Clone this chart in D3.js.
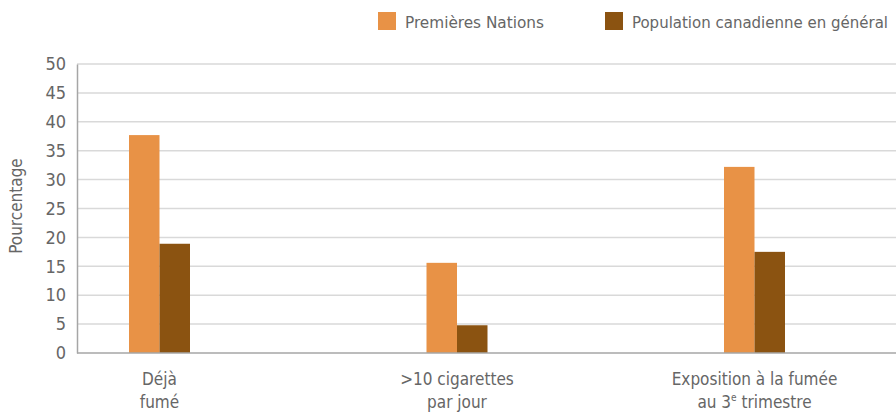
<!DOCTYPE html>
<html>
<head>
<meta charset="utf-8">
<script src="https://cdn.jsdelivr.net/npm/d3@7"></script>
<style>
  html, body { margin: 0; padding: 0; background: #fff; }
  svg { display: block; }
  text { font-family: "DejaVu Sans Condensed", "Open Sans", sans-serif; fill: #666; }
</style>
</head>
<body>
<svg id="chart" width="896" height="414"></svg>
<script>
// Catégories (chaque libellé sur deux lignes)
const categories = ["Déjà fumé", ">10 cigarettes par jour", "Exposition à la fumée au 3e trimestre"];
const seriesNames = ["Premières Nations", "Population canadienne en général"];
const premieresNations = [37.7, 15.6, 32.2];
const populationCanadienne = [18.9, 4.8, 17.5];
const yTicks = [0, 5, 10, 15, 20, 25, 30, 35, 40, 45, 50];
const colors = ["#E89246", "#8B5311"];

const svg = d3.select("#chart");
const plotLeft = 77, plotRight = 896, plotTop = 64, plotBottom = 353;

const y = d3.scaleLinear().domain([0, 50]).range([plotBottom, plotTop]);
const x = d3.scalePoint().domain(categories).range([159.5, 754.5]);
const xs = d3.scaleBand().domain(seriesNames).range([-30.5, 30.5]).padding(0);

// Quadrillage
svg.append("g")
  .selectAll("line")
  .data(yTicks.filter(d => d > 0))
  .join("line")
  .attr("x1", plotLeft).attr("x2", plotRight)
  .attr("y1", d => y(d)).attr("y2", d => y(d))
  .attr("stroke", "#d9d9d9").attr("stroke-width", 1.5);

// Axe vertical
const yAxis = svg.append("g")
  .attr("transform", `translate(${plotLeft},0)`)
  .call(d3.axisLeft(y).tickValues(yTicks).tickSize(0).tickPadding(11));
yAxis.select(".domain").attr("stroke", "#a6a6a6").attr("stroke-width", 1.5);
yAxis.selectAll("text").attr("font-size", 18).style("fill", "#666")
  .style("font-family", "'DejaVu Sans Condensed', sans-serif");

// Barres
const rows = categories.map((c, i) => ({ c, v: [premieresNations[i], populationCanadienne[i]] }));
svg.append("g")
  .selectAll("g")
  .data(rows)
  .join("g")
  .attr("transform", d => `translate(${x(d.c)},0)`)
  .selectAll("rect")
  .data(d => d.v.map((v, j) => ({ s: seriesNames[j], v, j })))
  .join("rect")
  .attr("x", d => xs(d.s))
  .attr("width", xs.bandwidth())
  .attr("y", d => y(d.v))
  .attr("height", d => y(0) - y(d.v))
  .attr("fill", d => colors[d.j]);

// Axe horizontal
svg.append("line")
  .attr("x1", plotLeft).attr("x2", plotRight)
  .attr("y1", y(0)).attr("y2", y(0))
  .attr("stroke", "#a6a6a6").attr("stroke-width", 1.5);

// Libellés des catégories
const labelLines = [
  [["Déjà"], ["fumé"]],
  [[">10 cigarettes"], ["par jour"]],
  [["Exposition à la fumée"], ["au 3", "e", " trimestre"]]
];
categories.forEach((c, i) => {
  labelLines[i].forEach((parts, k) => {
    const t = svg.append("text")
      .attr("x", x(c))
      .attr("y", 385 + k * 23)
      .attr("text-anchor", "middle")
      .attr("font-size", 17);
    parts.forEach((p, m) => {
      if (parts.length === 3 && m === 1) {
        t.append("tspan").attr("font-size", 10).attr("dy", -7).text(p);
      } else if (parts.length === 3 && m === 2) {
        t.append("tspan").attr("dy", 7).text(p);
      } else {
        t.append("tspan").text(p);
      }
    });
  });
});

// Titre de l'axe vertical
svg.append("text")
  .attr("transform", "translate(22,206) rotate(-90)")
  .attr("text-anchor", "middle")
  .attr("font-size", 17)
  .text("Pourcentage");

// Légende
const legendX = [378, 605];
const legendW = [139, 256];
seriesNames.forEach((s, j) => {
  svg.append("rect")
    .attr("x", legendX[j]).attr("y", 12)
    .attr("width", 18).attr("height", 18)
    .attr("fill", colors[j]);
  svg.append("text")
    .attr("x", legendX[j] + 27).attr("y", 28)
    .attr("font-size", 16.5)
    .attr("textLength", legendW[j])
    .attr("lengthAdjust", "spacingAndGlyphs")
    .text(s);
});
</script>
</body>
</html>
